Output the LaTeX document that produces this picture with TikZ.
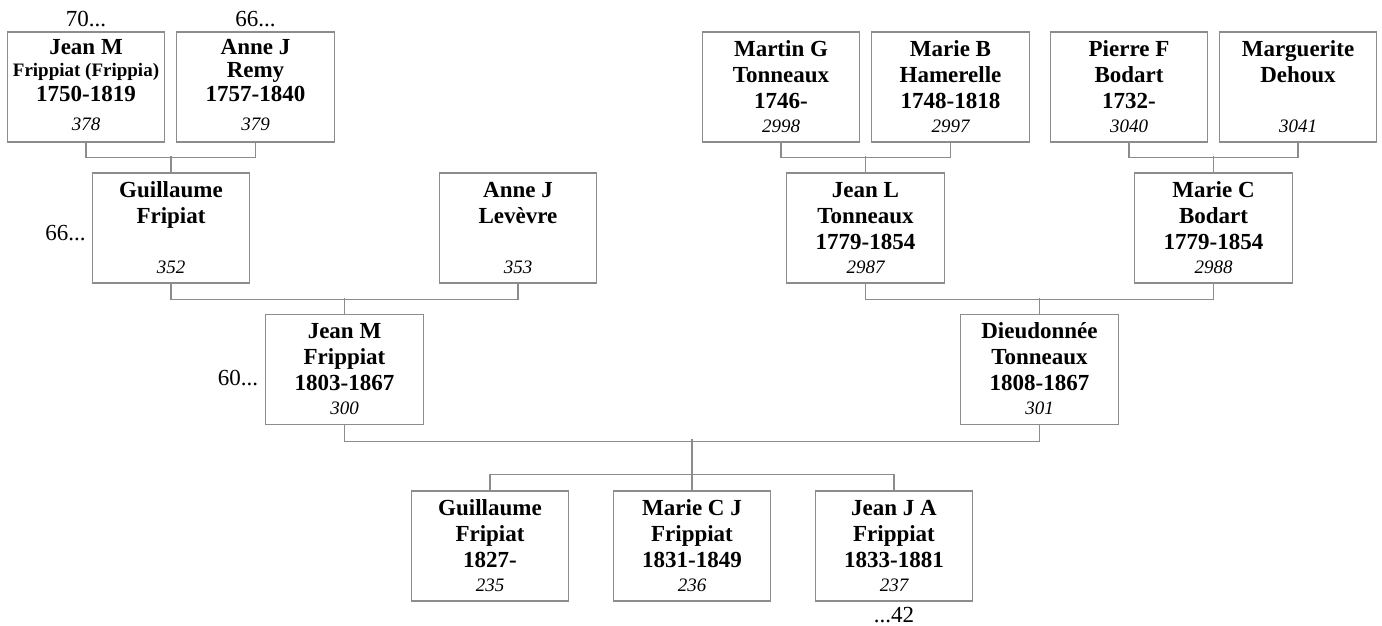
\documentclass[tikz,border=0pt]{standalone}
\usepackage{fontspec}
\setmainfont{Liberation Serif}
\usetikzlibrary{calc}
\definecolor{lgray}{RGB}{140,140,140}
\tikzset{
  pbox/.style={draw=lgray, line width=1.1pt, minimum width=157.5pt, minimum height=110pt, inner sep=0pt, fill=white},
  nm/.style={anchor=base, inner sep=0pt, font=\bfseries\fontsize{23}{26}\selectfont},
  nmsmall/.style={anchor=base, inner sep=0pt, font=\bfseries\fontsize{19}{22}\selectfont},
  num/.style={anchor=base, inner sep=0pt, font=\itshape\fontsize{19}{22}\selectfont},
  lbl/.style={inner sep=0pt, font=\fontsize{23}{26}\selectfont},
  link/.style={draw=lgray, line width=1.1pt}
}
\newcommand\person[7]{%
  \node[pbox] (#1) at (#2,#3) {};
  \node[nm] (#1-a) at ($(#1.north)+(0,25)$) {#4};
  \node[nm] (#1-b) at ($(#1.north)+(0,51)$) {#5};
  \node[nm] (#1-c) at ($(#1.north)+(0,77)$) {#6};
  \node[num] (#1-d) at ($(#1.north)+(0,101)$) {#7};
}
\begin{document}
\begin{tikzpicture}[x=1pt, y=-1pt]
\useasboundingbox (0,0) rectangle (1382,626);
% row 1
\node[pbox] (jm) at (86,87) {};
\node[nm] (jm-a) at ($(jm.north)+(0,23)$) {Jean M};
\node[nmsmall] (jm-b) at ($(jm.north)+(0,45)$) {Frippiat (Frippia)};
\node[nm] (jm-c) at ($(jm.north)+(0,70)$) {1750-1819};
\node[num] (jm-d) at ($(jm.north)+(0,99)$) {378};
\node[pbox] (ar) at (255.5,87) {};
\node[nm] (ar-a) at ($(ar.north)+(0,23)$) {Anne J};
\node[nm] (ar-b) at ($(ar.north)+(0,46)$) {Remy};
\node[nm] (ar-c) at ($(ar.north)+(0,70)$) {1757-1840};
\node[num] (ar-d) at ($(ar.north)+(0,99)$) {379};
\person{mg}{781}{87}{Martin G}{Tonneaux}{1746-}{2998}
\person{mb}{950.5}{87}{Marie B}{Hamerelle}{1748-1818}{2997}
\person{pf}{1129}{87}{Pierre F}{Bodart}{1732-}{3040}
\person{md}{1298}{87}{Marguerite}{Dehoux}{}{3041}
% row 2
\person{gf}{171}{228}{Guillaume}{Fripiat}{}{352}
\person{al}{518}{228}{Anne J}{Levèvre}{}{353}
\person{jl}{865.5}{228}{Jean L}{Tonneaux}{1779-1854}{2987}
\person{mc}{1213.5}{228}{Marie C}{Bodart}{1779-1854}{2988}
% row 3
\person{jf}{344.5}{369.5}{Jean M}{Frippiat}{1803-1867}{300}
\person{dt}{1039.5}{369.5}{Dieudonnée}{Tonneaux}{1808-1867}{301}
% row 4
\person{cg}{490}{546}{Guillaume}{Fripiat}{1827-}{235}
\person{cm}{692}{546}{Marie C J}{Frippiat}{1831-1849}{236}
\person{cj}{894}{546}{Jean J A}{Frippiat}{1833-1881}{237}
% labels
\node[lbl, anchor=base] (l70) at ($(jm.north)+(0,-5)$) {70...};
\node[lbl, anchor=base] (l66a) at ($(ar.north)+(0,-5)$) {66...};
\node[lbl, anchor=base east] (l66b) at ($(gf.west)+(-6,12)$) {66...};
\node[lbl, anchor=base east] (l60) at ($(jf.west)+(-7,15.5)$) {60...};
\node[lbl, anchor=base] (l42) at ($(cj.south)+(0,21)$) {...42};
% connectors
\draw[link] (jm.south) -- ++(0,15) -| (ar.south);
\draw[link] (gf.north) -- ++(0,-16);
\draw[link] (mg.south) -- ++(0,15) -| (mb.south);
\draw[link] (jl.north) -- ++(0,-16);
\draw[link] (pf.south) -- ++(0,15) -| (md.south);
\draw[link] (mc.north) -- ++(0,-16);
\draw[link] (gf.south) -- ++(0,16) -| (al.south);
\draw[link] (jf.north) -- ++(0,-16);
\draw[link] (jl.south) -- ++(0,16) -| (mc.south);
\draw[link] (dt.north) -- ++(0,-16);
\draw[link] (jf.south) -- ++(0,16) -| (dt.south);
\draw[link] (cm.north) -- ++(0,-51);
\draw[link] (cg.north) -- ++(0,-16) -| (cj.north);
\end{tikzpicture}
\end{document}
